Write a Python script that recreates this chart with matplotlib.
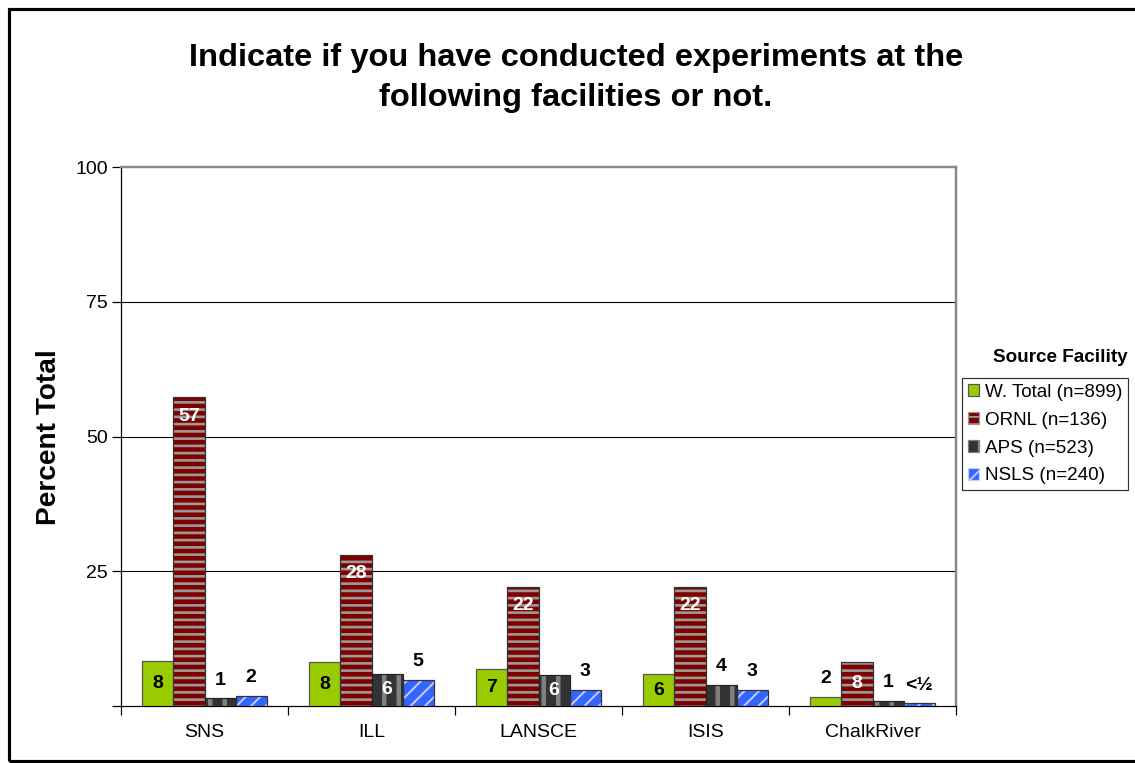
import matplotlib
matplotlib.use("Agg")
import matplotlib.pyplot as plt
import matplotlib.patches as mpatches
import numpy as np

categories = ["SNS", "ILL", "LANSCE", "ISIS", "ChalkRiver"]
series_names = ["W. Total (n=899)", "ORNL (n=136)", "APS (n=523)", "NSLS (n=240)"]
w_total = [8.3, 8.1, 6.8, 5.9, 1.7]
ornl = [57.3, 28.0, 22.1, 22.1, 8.2]
aps = [1.4, 6.0, 5.8, 3.9, 0.9]
nsls = [1.9, 4.8, 3.0, 3.0, 0.5]
label_w_total = ["8", "8", "7", "6", "2"]
label_ornl = ["57", "28", "22", "22", "8"]
label_aps = ["1", "6", "6", "4", "1"]
label_nsls = ["2", "5", "3", "3", "<½"]
y_ticks = [0, 25, 50, 75, 100]

plt.rcParams["font.family"] = ["Liberation Sans", "DejaVu Sans"]

DPI = 87.5
fig = plt.figure(figsize=(1135 / DPI, 763 / DPI), dpi=DPI)
ax = fig.add_axes([121 / 1135, 1 - 706 / 763, (956 - 121) / 1135, (706 - 167) / 763])

styles = [
    dict(face="#99cc00", hatch=None, hcol="#666666", hlw=1.0, edge="#555555", intext="black"),
    dict(face="#800000", hatch="--", hcol="#999999", hlw=2.2, edge="#333333", intext="white"),
    dict(face="#333333", hatch="|", hcol="#808080", hlw=3.7, edge="#222222", intext="white"),
    dict(face="#3366ff", hatch="//", hcol="#ccccff", hlw=1.6, edge="#333333", intext="white"),
]
all_vals = [w_total, ornl, aps, nsls]
all_labels = [label_w_total, label_ornl, label_aps, label_nsls]

x = np.arange(len(categories))
bw = 0.186
for j, (vals, labs, st) in enumerate(zip(all_vals, all_labels, styles)):
    xs = x + (j - 1.5) * bw
    if st["hatch"]:
        plt.rcParams["hatch.linewidth"] = st["hlw"]
        bars = ax.bar(xs, vals, bw, color=st["face"], edgecolor=st["hcol"],
                      hatch=st["hatch"], linewidth=0, zorder=3)
        for b in bars:
            if hasattr(b, "set_hatch_linewidth"):
                b.set_hatch_linewidth(st["hlw"])
        ax.bar(xs, vals, bw, fill=False, edgecolor=st["edge"], linewidth=1.0, zorder=4)
    else:
        ax.bar(xs, vals, bw, color=st["face"], edgecolor=st["edge"], linewidth=1.0, zorder=3)
    for xi, v, lab in zip(xs, vals, labs):
        if v >= 5:
            yy = v / 2 if v < 10 else v - 3.5
            ax.text(xi, yy, lab, ha="center", va="center", color=st["intext"],
                    fontsize=16, fontweight="bold", zorder=6)
        else:
            ax.annotate(lab, (xi, v), xytext=(0, 15), textcoords="offset points",
                        ha="center", va="center", color="black",
                        fontsize=16, fontweight="bold", zorder=6)

ax.set_xlim(-0.5, len(categories) - 0.5)
ax.set_ylim(0, 100)
ax.set_yticks(y_ticks)
ax.set_yticklabels([str(t) if t > 0 else "" for t in y_ticks])
ax.set_xticks(x)
ax.set_xticklabels(categories)
ax.set_xticks(np.arange(len(categories) + 1) - 0.5, minor=True)
ax.tick_params(axis="x", which="major", length=0, labelsize=16, pad=15)
ax.tick_params(axis="x", which="minor", length=7, direction="out", width=1)
ax.tick_params(axis="y", which="major", length=7, direction="out", width=1,
               labelsize=16, pad=4)
for yv in y_ticks[1:-1]:
    ax.axhline(yv, color="black", linewidth=0.9, zorder=1)
for s in ["top", "right"]:
    ax.spines[s].set_color("#888888")
    ax.spines[s].set_linewidth(2)
for s in ["left", "bottom"]:
    ax.spines[s].set_color("black")
    ax.spines[s].set_linewidth(1)

fig.text(49 / 1135, 1 - 437 / 763, "Percent Total", rotation=90, ha="center", va="center",
         fontsize=23, fontweight="bold")

fig.text(576 / 1135, 1 - 78 / 763,
         "Indicate if you have conducted experiments at the\nfollowing facilities or not.",
         ha="center", va="center", fontsize=26.8, fontweight="bold", linespacing=1.4)

# legend
plt.rcParams["hatch.linewidth"] = 1.5
handles = []
for st, name in zip(styles, series_names):
    p = mpatches.Rectangle((0, 0), 1, 1, facecolor=st["face"],
                           edgecolor=st["hcol"] if st["hatch"] else st["edge"],
                           hatch=st["hatch"], linewidth=1)
    handles.append(p)
leg = fig.legend(handles, series_names, loc="upper left",
                 bbox_to_anchor=(962 / 1135, 1 - 378 / 763), fontsize=15.5,
                 handlelength=0.6, handleheight=0.6, handletextpad=0.3,
                 labelspacing=0.58, borderpad=0.3, borderaxespad=0,
                 fancybox=False, shadow=False, frameon=True)
leg.get_frame().set_edgecolor("black")
leg.get_frame().set_linewidth(1.0)
fig.text(1060 / 1135, 1 - 358 / 763, "Source Facility", ha="center", va="center",
         fontsize=15.5, fontweight="bold")

# outer border
border = mpatches.Rectangle((9 / 1135, 1 - 761 / 763), 1.2, (761 - 8.5) / 763,
                            transform=fig.transFigure, fill=False, edgecolor="black",
                            linewidth=2.6, clip_on=False)
fig.patches.append(border)

fig.savefig("out.png", dpi=DPI)
